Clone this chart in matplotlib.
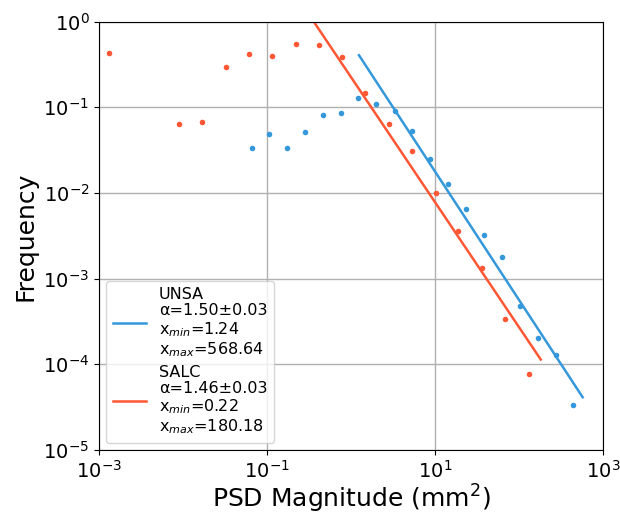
import numpy as np
import matplotlib
matplotlib.use("Agg")
import matplotlib.pyplot as plt

# UNSA data (log-binned PSD distribution)
unsa_x = [0.0655, 0.106, 0.173, 0.284, 0.465, 0.755, 1.21, 2.00, 3.31, 5.31,
          8.69, 14.2, 23.3, 37.8, 61.9, 102, 166, 272, 441]
unsa_y = [0.0337, 0.0484, 0.0337, 0.0519, 0.0813, 0.0851, 0.127, 0.109, 0.0905,
          0.0529, 0.0247, 0.0129, 0.00653, 0.00325, 0.00178, 0.000481, 0.000203,
          0.000130, 3.33e-5]

# SALC data
salc_x = [0.00132, 0.00887, 0.0169, 0.0321, 0.0608, 0.115, 0.218, 0.413, 0.782,
          1.48, 2.81, 5.31, 10.1, 18.9, 36.1, 68.5, 130]
salc_y = [0.431, 0.0633, 0.0668, 0.298, 0.420, 0.397, 0.549, 0.539, 0.387,
          0.146, 0.0633, 0.0306, 0.00989, 0.00362, 0.00134, 0.000334, 7.73e-5]

# Power-law fits
unsa_alpha, unsa_err, unsa_xmin, unsa_xmax, unsa_amp = 1.50, 0.03, 1.24, 568.64, 0.560
salc_alpha, salc_err, salc_xmin, salc_xmax, salc_amp = 1.46, 0.03, 0.22, 180.18, 0.224

blue = "#3498db"
red = "#ff5733"

fig = plt.figure(figsize=(6.2, 5.16), dpi=100)
ax = fig.add_axes([0.1597, 0.1279, 0.973 - 0.1597, 0.958 - 0.1279])

ax.scatter(unsa_x, unsa_y, s=16, color=blue, zorder=3, linewidths=0)
ax.scatter(salc_x, salc_y, s=16, color=red, zorder=3, linewidths=0)

xf = np.logspace(np.log10(unsa_xmin), np.log10(unsa_xmax), 100)
ax.plot(xf, unsa_amp * xf ** (-unsa_alpha), color=blue, lw=1.8, zorder=2,
        label="UNSA\n\u03b1=%.2f\u00b1%.2f\nx$_{min}$=%.2f\nx$_{max}$=%.2f"
        % (unsa_alpha, unsa_err, unsa_xmin, unsa_xmax))
xf = np.logspace(np.log10(salc_xmin), np.log10(salc_xmax), 100)
ax.plot(xf, salc_amp * xf ** (-salc_alpha), color=red, lw=1.8, zorder=2,
        label="SALC\n\u03b1=%.2f\u00b1%.2f\nx$_{min}$=%.2f\nx$_{max}$=%.2f"
        % (salc_alpha, salc_err, salc_xmin, salc_xmax))

ax.set_xscale("log")
ax.set_yscale("log")
ax.set_xlim(1e-3, 1e3)
ax.set_ylim(1e-5, 1e0)
ax.set_xticks([1e-3, 1e-1, 1e1, 1e3])
ax.set_yticks([1e-5, 1e-4, 1e-3, 1e-2, 1e-1, 1e0])
ax.minorticks_off()
ax.tick_params(labelsize=14)
ax.grid(True, color="#b0b0b0", lw=1)
ax.set_axisbelow(True)

ax.set_xlabel("PSD Magnitude (mm$^2$)", fontsize=18, labelpad=1)
ax.set_ylabel("Frequency", fontsize=18)

leg = ax.legend(loc="lower left", fontsize=11.5, handlelength=2.1,
                labelspacing=0.4, borderaxespad=0.45)
for t in leg.get_texts():
    t.set_linespacing(1.1)

fig.savefig("out.png", dpi=100)
